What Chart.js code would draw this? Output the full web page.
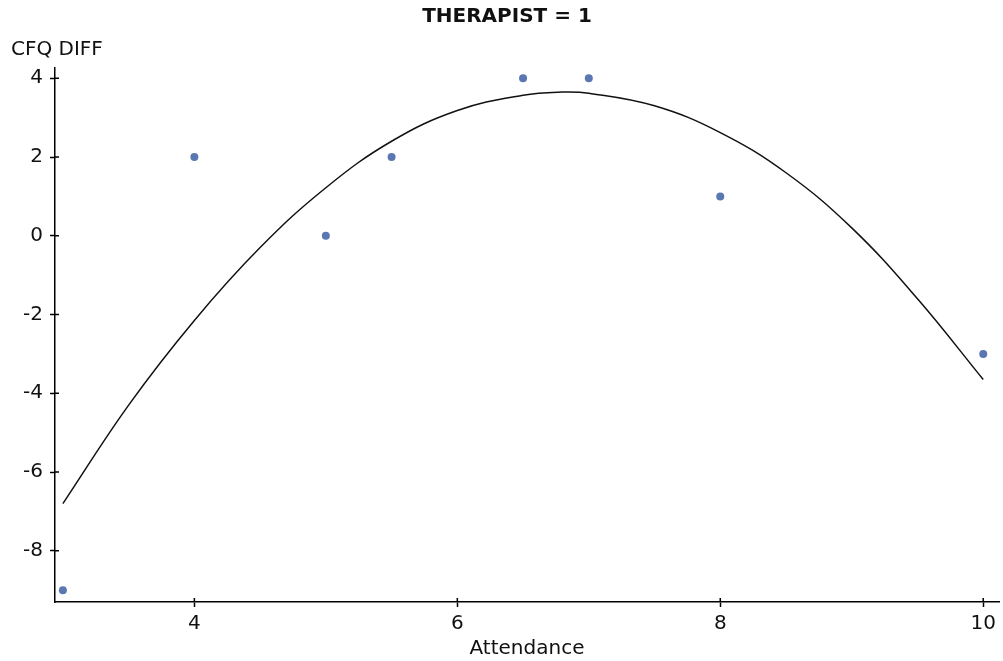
<!DOCTYPE html>
<html><head><meta charset="utf-8">
<script src="https://cdn.jsdelivr.net/npm/chart.js@4.4.1/dist/chart.umd.min.js"></script>
<style>html,body{margin:0;padding:0;background:#fff}#wrap{width:1003px;height:661px}</style>
</head><body><div id="wrap"><canvas id="c" width="1003" height="661"></canvas></div>
<script>
const attendance = [3, 4, 5, 5.5, 6.5, 7, 8, 10];
const cfqDiff = [-9, 2, 0, 2, 4, 4, 1, -3];
const fitX = [3, 3.5, 4, 4.5, 5, 5.5, 6, 6.5, 6.8, 7, 7.5, 8, 8.5, 9, 9.5, 10];
const fitY = [-6.8, -4.3, -2.15, -0.3, 1.22, 2.4, 3.18, 3.57, 3.65, 3.62, 3.3, 2.62, 1.6, 0.2, -1.6, -3.65];
const xTicks = [4, 6, 8, 10];
const yTicks = [-8, -6, -4, -2, 0, 2, 4];
const titleText = 'THERAPIST = 1';
const yLabel = 'CFQ DIFF';
const xLabel = 'Attendance';

const FONT = '"DejaVu Sans", sans-serif';

const textPlugin = {
  id: 'texts',
  afterDraw(chart) {
    const ctx = chart.ctx;
    ctx.save();
    ctx.fillStyle = '#111';
    ctx.textBaseline = 'middle';
    ctx.font = 'bold 20px ' + FONT;
    ctx.textAlign = 'center';
    ctx.fillText(titleText, 507, 17);
    ctx.font = '20px ' + FONT;
    ctx.textAlign = 'left';
    ctx.fillText(yLabel, 11, 50);
    // inner halves of tick marks
    ctx.strokeStyle = '#000';
    ctx.lineWidth = 1.5;
    const xs = chart.scales.x, ys = chart.scales.y, a = chart.chartArea;
    ctx.beginPath();
    xTicks.forEach(v => { const p = xs.getPixelForValue(v); ctx.moveTo(p, a.bottom); ctx.lineTo(p, a.bottom - 4); });
    yTicks.forEach(v => { const p = ys.getPixelForValue(v); ctx.moveTo(a.left, p); ctx.lineTo(a.left + 4, p); });
    ctx.stroke();
    ctx.restore();
  }
};

new Chart(document.getElementById('c'), {
  type: 'scatter',
  data: {
    datasets: [
      {
        type: 'scatter',
        data: attendance.map((x, i) => ({x, y: cfqDiff[i]})),
        backgroundColor: '#5a77b1',
        borderWidth: 0,
        pointRadius: 4,
        pointHoverRadius: 4
      },
      {
        type: 'line',
        data: fitX.map((x, i) => ({x, y: fitY[i]})),
        borderColor: '#111',
        borderWidth: 1.5,
        pointRadius: 0,
        fill: false,
        tension: 0.4
      }
    ]
  },
  options: {
    responsive: false,
    devicePixelRatio: 1,
    animation: false,
    layout: { padding: { top: 68, right: 1, left: 0, bottom: 0 } },
    plugins: { legend: { display: false }, tooltip: { enabled: false }, title: { display: false } },
    scales: {
      x: {
        type: 'linear', min: 2.94, max: 10.12,
        afterBuildTicks: s => { s.ticks = xTicks.map(v => ({ value: v })); },
        afterFit: s => { s.height = 59; },
        grid: { drawOnChartArea: false, tickLength: 5, tickColor: '#000', tickWidth: 1.5 },
        border: { color: '#000', width: 1.5 },
        ticks: { color: '#111', font: { family: FONT, size: 20 }, padding: 5, maxRotation: 0 },
        title: { display: true, text: xLabel, color: '#111', font: { family: FONT, size: 20 }, padding: { top: 0, bottom: 0 } }
      },
      y: {
        type: 'linear', min: -9.3, max: 4.26,
        afterBuildTicks: s => { s.ticks = yTicks.map(v => ({ value: v })); },
        afterFit: s => { s.width = 55; },
        grid: { drawOnChartArea: false, tickLength: 5, tickColor: '#000', tickWidth: 1.5 },
        border: { color: '#000', width: 1.5 },
        ticks: { color: '#111', font: { family: FONT, size: 20 }, padding: 7 }
      }
    }
  },
  plugins: [textPlugin]
});
</script>
</body></html>
